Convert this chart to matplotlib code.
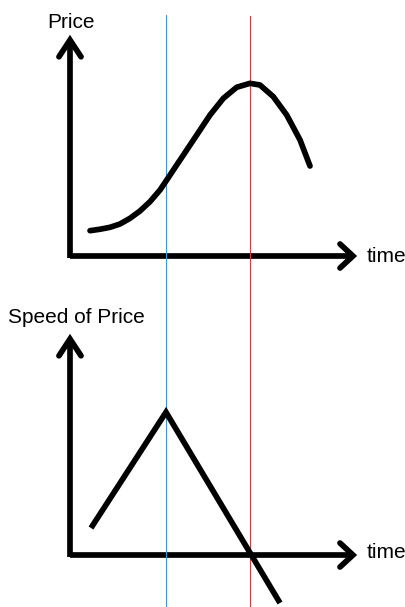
import matplotlib.pyplot as plt

# ---------- données ----------
# unités : 1 unité de temps = 1 unité de prix = 12 px
price_t = [1.67, 2.5, 3.33, 4.17, 5.0, 5.83, 6.67, 7.5, 8.06, 8.89, 9.44,
           10.56, 11.67, 12.78, 13.89, 15.0, 15.83, 16.94, 18.06, 19.17, 20.0]
price_v = [2.11, 2.23, 2.39, 2.67, 3.14, 3.75, 4.53, 5.5, 6.33, 7.58, 8.4,
           10.08, 11.75, 13.14, 14.06, 14.39, 14.25, 13.28, 11.75, 9.67, 7.5]

speed_t = [1.75, 8.0, 17.5]
speed_v = [2.25, 11.9, -4.0]

t_blue = 8.0
t_red = 15.0

# ---------- styles ----------
noir = "black"
bleu = "#3a9bd2"
rouge = "#c9443c"
lw_epais = 4.1
lw_fin = 0.8
police = ["Liberation Sans", "DejaVu Sans"]

W, H = 406, 607
fig = plt.figure(figsize=(W / 100, H / 100), dpi=100)

ax_top = fig.add_axes([0, 307 / H, 1, 300 / H])
ax_bot = fig.add_axes([0, 0, 1, 307 / H])

ax_top.set_xlim(-70 / 12, 336 / 12)
ax_top.set_ylim(-44 / 12, 256 / 12)
ax_bot.set_xlim(-70 / 12, 336 / 12)
ax_bot.set_ylim(-52 / 12, 255 / 12)


def axes_fleches(ax):
    # axe x + flèche
    ax.plot([0, 23.58], [0, 0], color=noir, lw=lw_epais, solid_capstyle="butt")
    ax.plot([22.5, 23.58, 22.5], [1.0, 0, -1.0], color=noir, lw=lw_epais,
            solid_capstyle="round", solid_joinstyle="miter")
    # axe y + flèche
    ax.plot([0, 0], [-0.2, 18.0], color=noir, lw=lw_epais, solid_capstyle="butt")
    ax.plot([-0.92, 0, 0.92], [16.6, 18.0, 16.6], color=noir, lw=lw_epais,
            solid_capstyle="round", solid_joinstyle="miter")


for ax in (ax_top, ax_bot):
    ax.axis("off")
    axes_fleches(ax)

# lignes verticales
ax_top.plot([t_blue, t_blue], [-44 / 12, 20.08], color=bleu, lw=lw_fin)
ax_top.plot([t_red, t_red], [-44 / 12, 20.0], color=rouge, lw=lw_fin)
ax_bot.axvline(t_blue, color=bleu, lw=lw_fin)
ax_bot.axvline(t_red, color=rouge, lw=lw_fin)

# courbes
ax_top.plot(price_t, price_v, color=noir, lw=lw_epais, solid_capstyle="round",
            solid_joinstyle="round")
ax_bot.plot(speed_t, speed_v, color=noir, lw=lw_epais, solid_capstyle="butt",
            solid_joinstyle="miter")

# textes
fs = 15
fig.text(47 / W, 1 - 28 / H, "Price", fontsize=fs, family=police, va="baseline")
fig.text(367 / W, 1 - 262 / H, "time", fontsize=fs, family=police, va="baseline")
fig.text(8 / W, 1 - 323 / H, "Speed of Price", fontsize=fs, family=police, va="baseline")
fig.text(367 / W, 1 - 558 / H, "time", fontsize=fs, family=police, va="baseline")

fig.savefig("out.png", dpi=100)
plt.close(fig)
